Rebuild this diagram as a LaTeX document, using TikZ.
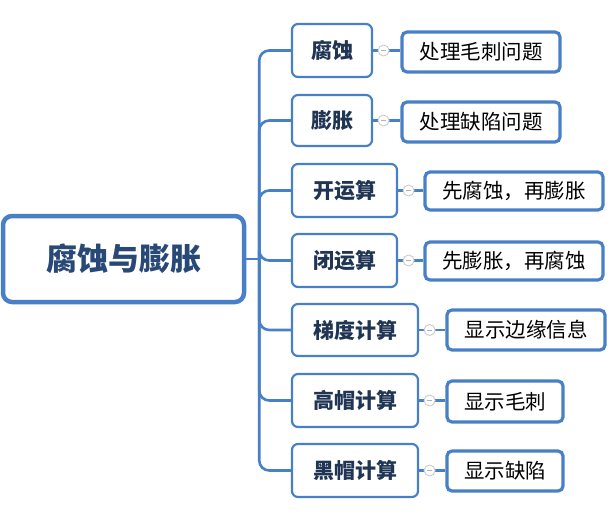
\documentclass[tikz,border=0pt]{standalone}
\usepackage{fontspec}
\setmainfont{Noto Sans CJK SC}
\usetikzlibrary{calc,backgrounds}
\definecolor{lineblue}{RGB}{72,128,200}
\definecolor{navy}{RGB}{32,52,84}
\definecolor{rootnavy}{RGB}{40,72,120}
\tikzset{
  rootbox/.style={draw=lineblue, line width=4.5pt, rounded corners=9pt, fill=white,
    inner sep=0pt, font=\fontsize{31}{35}\selectfont\bfseries, text=rootnavy},
  lvlone/.style={draw=lineblue, line width=2.2pt, rounded corners=6pt, fill=white,
    inner sep=0pt, font=\fontsize{21}{25}\selectfont\bfseries, text=navy},
  lvltwo/.style={draw=lineblue, line width=3.2pt, rounded corners=5pt, fill=white,
    inner sep=0pt, font=\fontsize{20.5}{24}\selectfont, text=black},
  conn/.style={draw=lineblue, line width=2.6pt, rounded corners=10pt},
  sub/.style={draw=lineblue, line width=2.4pt},
  fold/.style={circle, draw=gray!40, line width=0.9pt, fill=white, minimum size=11pt, inner sep=0pt,
    path picture={\draw[gray!60, line width=0.9pt] ([xshift=-2.8pt]path picture bounding box.center) -- ([xshift=2.8pt]path picture bounding box.center);}}
}
\begin{document}
\begin{tikzpicture}[x=1pt,y=-1pt]
\useasboundingbox (0,0) rectangle (610,530);
\node[rootbox, minimum width=241pt, minimum height=86pt] (root) at (123.5,259) {腐蚀与膨胀};

\node[lvlone, minimum width=80pt, minimum height=53pt] (a1) at (332,50.5) {腐蚀};
\node[lvlone, minimum width=80pt, minimum height=51pt] (a2) at (332,120.5) {膨胀};
\node[lvlone, minimum width=105pt, minimum height=53pt] (a3) at (344.5,190.5) {开运算};
\node[lvlone, minimum width=105pt, minimum height=53pt] (a4) at (344.5,260.5) {闭运算};
\node[lvlone, minimum width=126pt, minimum height=52pt] (a5) at (355,330) {梯度计算};
\node[lvlone, minimum width=126pt, minimum height=53pt] (a6) at (355,400.5) {高帽计算};
\node[lvlone, minimum width=126pt, minimum height=53pt] (a7) at (355,470.5) {黑帽计算};

\node[lvltwo, minimum width=158pt, minimum height=40pt] (b1) at (481,52) {处理毛刺问题};
\node[lvltwo, minimum width=158pt, minimum height=40pt] (b2) at (481,122) {处理缺陷问题};
\node[lvltwo, minimum width=178pt, minimum height=38pt] (b3) at (514,191) {先腐蚀，再膨胀};
\node[lvltwo, minimum width=178pt, minimum height=38pt] (b4) at (514,261) {先膨胀，再腐蚀};
\node[lvltwo, minimum width=158pt, minimum height=40pt] (b5) at (526,330) {显示边缘信息};
\node[lvltwo, minimum width=116pt, minimum height=41pt] (b6) at (505,401.5) {显示毛刺};
\node[lvltwo, minimum width=116pt, minimum height=40pt] (b7) at (505,471) {显示缺陷};

\coordinate (trunk) at ($(root.east)+(13,0)$);
\begin{scope}[on background layer]
\draw[conn] (root.east) -- (trunk);
\foreach \i in {1,...,7}{
  \draw[conn] (trunk) |- (a\i.west);
}
\foreach \i in {1,...,7}{
  \draw[sub] (a\i.east) -- (b\i.west |- a\i.east);
}
\end{scope}

\foreach \i in {1,...,7}{
  \node[fold] (c\i) at ($(a\i.east)+(10.5,0)$) {};
}
\end{tikzpicture}
\end{document}
